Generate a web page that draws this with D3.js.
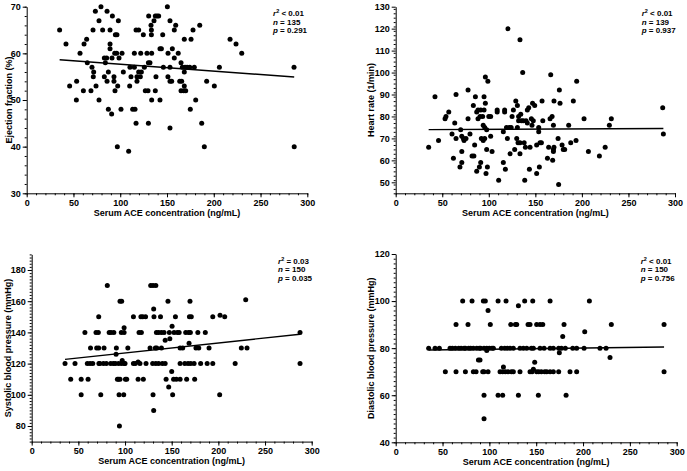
<!DOCTYPE html>
<html>
<head>
<meta charset="utf-8">
<script src="https://cdn.jsdelivr.net/npm/d3@7"></script>
<style>
body{margin:0;background:#fff}
text{font-family:"Liberation Sans",Arial,sans-serif;font-weight:bold;fill:#000}
</style>
</head>
<body>
<svg id="chart" width="687" height="471"></svg>
<script>
// serum ACE (ng/mL) on x for every panel
var xTicks=[0,50,100,150,200,250,300];

// ejection fraction (%)
var efPoints=[[35.2,65],[42,62],[45.9,53],[53.4,54],[53.1,50],[57,60],[60.6,52],[61.3,62],[64.1,63],[64.8,58],
[68.7,52],[69.8,57],[70.9,65],[71.6,56],[71.2,55],[73.4,69],[74.1,53],[77.3,67],[77.3,50],[79.4,70],
[81.2,65],[83,59],[83,55],[84.1,58],[85.5,59],[85.9,69],[85.9,54],[87.3,56],[87.3,48],[89.1,65],
[89.1,62],[89.1,61],[90.8,47],[91.6,68],[91.2,59],[93.3,55],[93.3,54],[94.1,60],[94.8,64],[96.5,64],
[94.4,52],[96.2,60],[97.3,53],[98,67],[96.9,40],[98.7,59],[101.9,60],[100.8,48],[103.3,56],[109,39],
[110.1,53],[110.4,57],[111.5,55],[115.1,60],[113.3,48],[115.8,48],[116.9,45],[115.1,57],[117.9,54],[117.9,55],
[116.9,65],[119.7,65],[119.7,56],[121.5,55],[122.6,56],[121.9,60],[124.7,64],[125.8,57],[128.6,60],[130.1,58],
[126.8,52],[129.7,52],[130.4,68],[130.1,45],[131.8,58],[132.9,66],[133.3,65],[133.3,64],[133.6,60],[133.6,50],
[136.1,67],[137.5,68],[139.3,68],[141.1,68],[138.2,55],[137.5,52],[142.5,61],[144,61],[142.5,50],[145.4,64],
[146.1,57],[150.4,70],[151.1,60],[153.2,54],[153.2,57],[153.2,67],[153.2,44],[151,55],
[155.7,61],[159.3,66],[157.8,65],[177.8,65],[185,66],[168.5,63],[175.7,63],[217.4,63],[223.8,62],[229.9,60],
[162,60],[157.8,59],[165,58],[166.4,57],[169.3,57],[171.5,57],[174.3,57],[179.2,57],[168.5,56],[206,57],
[285.8,57],[155,54],[163.6,54],[165.7,54],[192.4,54],[200.6,53],[168.5,53],[165,52],[167.9,52],[170,52],
[180.7,50],[174.9,48],[187.1,45],[189.9,40],[286,40]];

// heart rate (1/min)
var hrPoints=[[35.4,66],[42.2,89],[46,69],[53,79],[54,80],[57,82],[60.5,72],[62,61],[63.4,77],[64.8,90],
[64.8,70],[69,57],[71,64],[71,59],[69.8,74],[71,71],[72.7,70],[73.4,69],[75.5,70],[77.7,79],
[77.7,92],[79.8,72],[82,62],[83.4,85],[84,62],[84.8,67],[85.6,89],[87,82],[87,55],[88.4,79],
[88.4,83],[89.9,57],[90.6,80],[91.3,83],[91.3,59],[92,70],[93.4,80],[94,69],[94,76],[94.9,89],
[94.9,83],[95.6,75],[96.3,86],[95.6,70],[96.3,98],[97,54],[97.7,74],[97.7,65],[98.5,57],[99,96],
[100,80],[102,80],[102,71],[103.5,64],[110.6,51],[109,83],[109,82],[115.6,59],[115.6,73],[117,83],
[117,82],[117.8,56],[119,75],[120,70],[120.6,120],[122,75],[122.8,63],[124,75],[125,80],[126.4,83],
[127.8,65],[129,87],[130,70],[130.7,85],[130.7,75],[131.4,68],[132,78],[132,80],[133.5,115],[133.5,68],
[133.5,63],[134.3,81],[135,78],[136.4,100],[137,78],[138.6,51],[138,68],[139.3,66],[140,78],[141.4,83],
[141.4,77],[142.9,84],[143.6,56],[144.3,66],[145.7,79],[146.4,76],[147,86],[147.8,78],[149.3,85],[151.4,67],
[151.4,54],[153.6,75],[153.6,73],[154.3,57],[155,68],[156.5,68],[157.2,87],[158,78],[163,61],[164.3,66],
[165.8,79],[166.5,99],[168,80],[168.6,60],[169.4,76],[169.4,65],[169.4,64],[170,66],[170,87],[174.4,70],
[175,49],[175.8,92],[176.5,86],[178.7,67],[180,65],[181.5,65],[185.8,76],[188,68],[190.8,87],[193.7,69],
[194.4,96],[202.3,79],[207,64],[218.8,62],[225,66],[229.5,76],[231.6,79],[286.8,84],[287.5,72]];

// systolic blood pressure (mmHg)
var sbpPoints=[[81,170],[127.5,170],[130,170],[133,170],[229.3,161],[94.6,160],[96.4,160],[146,160],[169.6,160],[130.7,155],
[201.8,151],[71.8,150],[109,150],[117,150],[119,150],[122,150],[131,150],[138,150],[154,150],[169,150],
[171,150],[194,150],[206.8,150],[150.4,144],[99,143],[57,140],[68.9,140],[71.4,140],[83,140],[85,140],
[88,140],[96,140],[99,140],[115,140],[117.5,140],[133.6,140],[136,140],[139,140],[141.8,140],[147.5,140],
[152.5,140],[156,140],[158,140],[165,140],[168,140],[170,140],[178,140],[186,140],[287.5,140],[148,136],
[143,135],[168.6,133],[63,130],[69.6,130],[71.8,130],[77.5,130],[90.7,130],[103,130],[126.8,130],[132.5,130],
[134,130],[139,130],[159,130],[161.8,130],[176,130],[179,130],[190,130],[224.6,130],[230.7,130],[90.4,126],
[97,122],[114,121],[35.7,120],[46.4,120],[59.6,120],[62.5,120],[65.4,120],[72,120],[73,120],[76.8,120],
[80,120],[84.6,120],[87.5,120],[89.6,120],[93,120],[96,120],[99,120],[100,120],[109,120],[111,120],
[116,120],[122.5,120],[129.6,120],[133,120],[136,120],[140,120],[143,120],[159,120],[164,120],[167.5,120],
[170.4,120],[174,120],[181,120],[188,120],[194,120],[218,120],[287.5,120],[150,115],[41.8,110],[53,110],
[60.4,110],[91.8,110],[93,110],[94.6,110],[100.4,110],[101.8,110],[114,110],[119.6,110],[144,110],[152,110],
[155,110],[159,110],[166,110],[174.6,110],[146.8,105],[53,100],[74,100],[93.6,100],[98.6,100],[130,100],
[151,100],[201.4,100],[130.7,90],[94,80]];

// diastolic blood pressure (mmHg)
var dbpPoints=[[71.5,100],[81.5,100],[93.6,100],[95.7,100],[109.3,100],[117.8,100],[137.7,100],[146.3,100],[164.8,100],[206.8,100],
[131,98],[98.6,96],[64.4,90],[77.2,90],[101,90],[122.8,90],[127.8,90],[129.2,90],[141.3,90],[143.4,90],
[150.5,90],[154.1,90],[157,90],[179.7,90],[230.2,90],[286.5,90],[201.8,87],[178.3,85],
[35.2,80],[42,80],[46.6,80],[58,80],[60.5,80],[63.7,80],[67.3,80],[69.8,80],[73,80],[74.4,80],
[77.9,80],[80,80],[82.9,80],[86.5,80],[89.3,80],[90.7,80],[94.3,80],[97.2,80],[100,80],[102.8,80],
[104.3,80],[112.8,80],[116.4,80],[119.2,80],[122.1,80],[125.6,80],[132.7,80],[136.3,80],[139.9,80],[144.8,80],
[147,80],[154.1,80],[158.4,80],[164.8,80],[168.3,80],[174,80],[176.9,80],[181.1,80],[189,80],[193.2,80],
[201.1,80],[218.1,80],[224.6,80],[97.2,79],[174.7,78],[228.8,76],[88.3,75],[90,75],[148.4,74],[115,72],
[147,71],[53,70],[64.4,70],[74.4,70],[82.9,70],[85.8,70],[92.9,70],[94.3,70],[98.6,70],[111.4,70],
[114.2,70],[117,70],[119.9,70],[123.5,70],[125.6,70],[132.7,70],[143.4,70],[145.6,70],[150.5,70],[152.7,70],
[155.5,70],[159.1,70],[161.2,70],[164.8,70],[168.3,70],[174,70],[186.1,70],[193.2,70],[286.5,70],
[94.3,60],[109.3,60],[114.2,60],[131,60],[152.3,60],[181.9,60],[94.3,50]];

// linear fits [intercept, slope] and stats text
var efFit=[59.13,-0.0147], hrFit=[73.93,0.002], sbpFit=[120.46,0.0639], dbpFit=[79.02,0.0052];
var efStats=["< 0.01","135","0.291"], hrStats=["< 0.01","139","0.937"],
    sbpStats=["= 0.03","150","0.035"], dbpStats=["< 0.01","150","0.756"];

var svg=d3.select("#chart");

function drawPanel(p){
    var g=svg.append("g");
    var x=d3.scaleLinear().domain([0,300]).range([p.left,p.right]);
    var y=d3.scaleLinear().domain(p.yDomain).range([p.bottom,p.top]);

    // minor ticks
    g.append("g").attr("transform","translate(0,"+p.bottom+")")
        .call(d3.axisBottom(x).tickValues(d3.range(0,301,10)).tickSize(2).tickFormat(""))
        .select(".domain").remove();
    g.append("g").attr("transform","translate("+p.left+",0)")
        .call(d3.axisLeft(y).tickValues(d3.range(p.yDomain[0],p.yDomain[1]+0.1,2)).tickSize(2).tickFormat(""))
        .select(".domain").remove();

    var xa=g.append("g").attr("transform","translate(0,"+p.bottom+")")
        .call(d3.axisBottom(x).tickValues(xTicks).tickSize(4).tickSizeOuter(0).tickPadding(2));
    var ya=g.append("g").attr("transform","translate("+p.left+",0)")
        .call(d3.axisLeft(y).tickValues(p.yTicks).tickSize(4).tickSizeOuter(0).tickPadding(2));
    [xa,ya].forEach(function(a){
        a.selectAll("text").style("font-size","9px").style("font-family",null);
        a.selectAll("line,path").attr("stroke","#000").attr("stroke-width",1);
    });
    g.selectAll("line").attr("stroke","#000");

    g.append("text").attr("x",(p.left+p.right)/2).attr("y",p.bottom+22.5)
        .attr("text-anchor","middle").style("font-size","9px")
        .text("Serum ACE concentration (ng/mL)");
    g.append("text").attr("transform","translate("+p.yTitleX+","+(p.top+p.bottom)/2+") rotate(-90)")
        .attr("text-anchor","middle").style("font-size","9px").text(p.yTitle);

    // fit line across the data range
    var ext=d3.extent(p.data,function(d){return d[0];});
    g.append("path")
        .datum(ext.map(function(v){return [v,p.fit[0]+p.fit[1]*v];}))
        .attr("d",d3.line().x(function(d){return x(d[0]);}).y(function(d){return y(d[1]);}))
        .attr("stroke","#000").attr("stroke-width",1.4).attr("fill","none");

    g.append("g").selectAll("circle")
        .data(p.data)
        .enter()
        .append("circle")
        .attr("cx",function(d){return x(d[0]);})
        .attr("cy",function(d){return y(d[1]);})
        .attr("r",2.5)
        .attr("fill","#000");

    var st=g.append("text").attr("x",p.statsX).attr("y",p.statsY).style("font-size","8px");
    st.append("tspan").style("font-style","italic").text("r");
    st.append("tspan").attr("dy",-3).style("font-size","5.5px").text("2");
    st.append("tspan").attr("dy",3).text(" "+p.stats[0]);
    var n=g.append("text").attr("x",p.statsX).attr("y",p.statsY+8.6).style("font-size","8px");
    n.append("tspan").style("font-style","italic").text("n");
    n.append("tspan").text(" = "+p.stats[1]);
    var pv=g.append("text").attr("x",p.statsX).attr("y",p.statsY+17.2).style("font-size","8px");
    pv.append("tspan").style("font-style","italic").text("p");
    pv.append("tspan").text(" = "+p.stats[2]);
}

drawPanel({data:efPoints,fit:efFit,stats:efStats,yTitle:"Ejection fraction (%)",
    yDomain:[30,70],yTicks:[30,40,50,60,70],left:26.7,right:307.3,top:6.7,bottom:193.3,
    yTitleX:12,statsX:273,statsY:16});
drawPanel({data:hrPoints,fit:hrFit,stats:hrStats,yTitle:"Heart rate (1/min)",
    yDomain:[45,130],yTicks:[50,60,70,80,90,100,110,120,130],left:395.7,right:675,top:6.7,bottom:193.3,
    yTitleX:374,statsX:641.7,statsY:16});
drawPanel({data:sbpPoints,fit:sbpFit,stats:sbpStats,yTitle:"Systolic blood pressure (mmHg)",
    yDomain:[70,190],yTicks:[80,100,120,140,160,180],left:31.7,right:311.7,top:254.4,bottom:441.6,
    yTitleX:11,statsX:278,statsY:263.5});
drawPanel({data:dbpPoints,fit:dbpFit,stats:dbpStats,yTitle:"Diastolic blood pressure (mmHg)",
    yDomain:[40,120],yTicks:[40,60,80,100,120],left:395.7,right:676.7,top:254,bottom:442.3,
    yTitleX:374,statsX:640.7,statsY:263.5});
</script>
</body>
</html>
